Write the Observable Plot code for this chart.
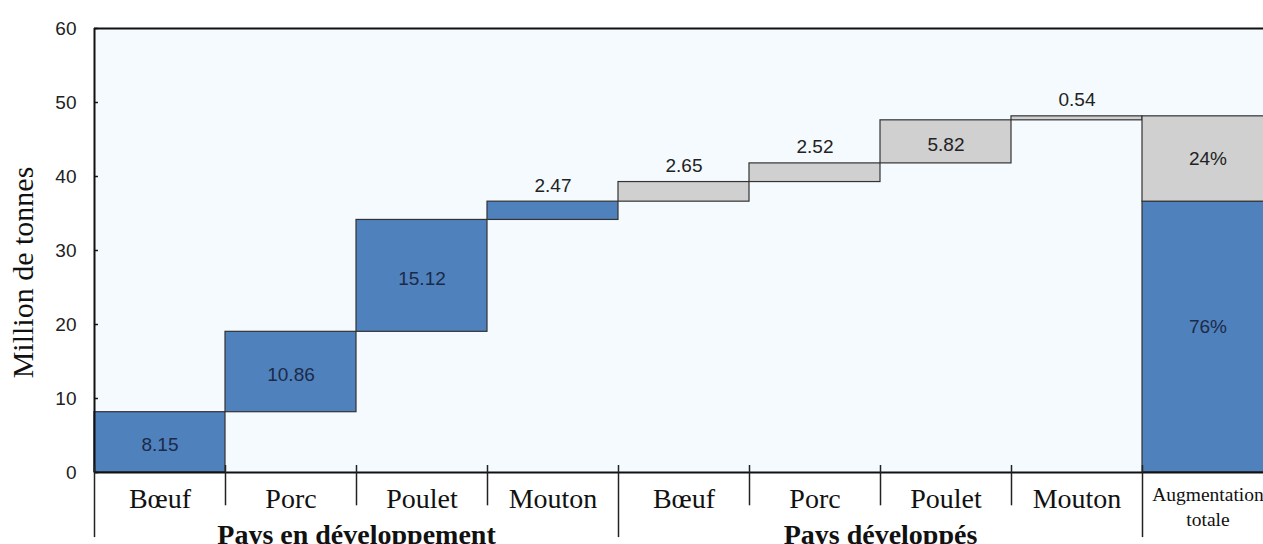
<!DOCTYPE html>
<html><head><meta charset="utf-8">
<script src="https://cdn.jsdelivr.net/npm/d3@7"></script>
<script src="https://cdn.jsdelivr.net/npm/@observablehq/plot@0.6"></script>
<style>body{margin:0;background:#fff;overflow:hidden}</style>
</head><body><div id="chart"></div>
<script>
const categories = ["Bœuf","Porc","Poulet","Mouton","Bœuf","Porc","Poulet","Mouton"];
const groups = ["Pays en développement","Pays développés"];
const increments = [8.15,10.86,15.12,2.47,2.65,2.52,5.82,0.54];
const shares = ["76%","24%"];
const totalLabel = ["Augmentation","totale"];
const yTicks = [0,10,20,30,40,50,60];
const yTitle = "Million de tonnes";

const BLUE = "#4f81bd", GREY = "#d0d0d0";
const SERIF = "'Liberation Serif', 'Times New Roman', serif";
const SANS = "Arial, 'Liberation Sans', sans-serif";
let cum = 0;
const steps = increments.map((v,i)=>{
  const s = {i, cat: categories[i], group: i<4?0:1, y1: cum, y2: cum+v, v};
  cum += v; return s;
});
const devTotal = d3.sum(increments.slice(0,4));
const allTotal = d3.sum(increments);
const n = categories.length;
const totals = [
  {i:n, y1:0, y2:devTotal, label:shares[0], group:0},
  {i:n, y1:devTotal, y2:allTotal, label:shares[1], group:1}
];
const inside = steps.filter(d=>d.v>4), above = steps.filter(d=>d.v<=4);
const minorSeps = d3.range(1,n).filter(i=>i!==4);
const majorSeps = [0,4,n];

const chart = Plot.plot({
  width:1263, height:544,
  marginTop:28, marginBottom:72, marginLeft:94, marginRight:0,
  x:{domain:[0,n+1], range:[94,1273], axis:null},
  y:{domain:[0,60], axis:null},
  style:{fontFamily:SANS, background:"white"},
  marks:[
    Plot.frame({fill:"#f4fafe", stroke:null}),
    Plot.rectY(steps,{x1:d=>d.i, x2:d=>d.i+1, y1:"y1", y2:"y2", fill:d=>d.group?GREY:BLUE, stroke:"#333", strokeWidth:1.2}),
    Plot.rectY(totals,{x1:d=>d.i, x2:d=>d.i+1, y1:"y1", y2:"y2", fill:d=>d.group?GREY:BLUE, stroke:"#333", strokeWidth:1.2}),
    Plot.text(inside,{x:d=>d.i+0.5, y:d=>(d.y1+d.y2)/2, dy:3, text:d=>d.v.toFixed(2), fontSize:19, fill:d=>d.group?"#222":"#1c2a48"}),
    Plot.text(above,{x:d=>d.i+0.5, y:"y2", dy:-16, text:d=>d.v.toFixed(2), fontSize:19, fill:"#222"}),
    Plot.text([totals[0]],{x:d=>d.i+0.5, y:d=>(d.y1+d.y2)/2, dy:-10, text:"label", fontSize:19, fill:"#1c2a48"}),
    Plot.text([totals[1]],{x:d=>d.i+0.5, y:d=>(d.y1+d.y2)/2, text:"label", fontSize:19, fill:"#222"}),
    Plot.ruleY([60],{stroke:"#111", strokeWidth:2}),
    Plot.ruleY([0],{stroke:"#111", strokeWidth:2}),
    Plot.ruleX([0],{y1:60, y2:0, stroke:"#111", strokeWidth:2}),
    Plot.ruleY(yTicks,{x1:0, x2:0.03, stroke:"#111", strokeWidth:1.5}),
    Plot.text(yTicks,{x:0, y:d=>d, dx:-18, textAnchor:"end", text:d=>String(d), fontSize:19, fill:"#222"}),
    Plot.text([yTitle],{frameAnchor:"left", textAnchor:"middle", dx:-71, dy:22, rotate:-90, text:d=>d, fontSize:30, fontFamily:SERIF, fill:"#111"}),
    Plot.ruleX(minorSeps,{x:d=>d, y1:0.95, y2:-4.5, stroke:"#222", strokeWidth:1.5}),
    Plot.ruleX(majorSeps,{x:d=>d, y1:0.95, y2:-8.8, stroke:"#222", strokeWidth:1.5}),
    Plot.text(steps,{x:d=>d.i+0.5, y:0, dy:27, text:"cat", fontSize:28, fontFamily:SERIF, fill:"#111"}),
    Plot.text(groups,{x:(d,i)=>i*4+2, y:0, dy:63, text:d=>d, fontSize:28, fontWeight:"bold", fontFamily:SERIF, fill:"#111"}),
    Plot.text([totalLabel[0]],{x:n+0.5, y:0, dy:22, text:d=>d, fontSize:19.5, fontFamily:SERIF, fill:"#111"}),
    Plot.text([totalLabel[1]],{x:n+0.5, y:0, dy:47, text:d=>d, fontSize:19.5, fontFamily:SERIF, fill:"#111"})
  ]
});
document.getElementById("chart").appendChild(chart);
</script>
</body></html>
